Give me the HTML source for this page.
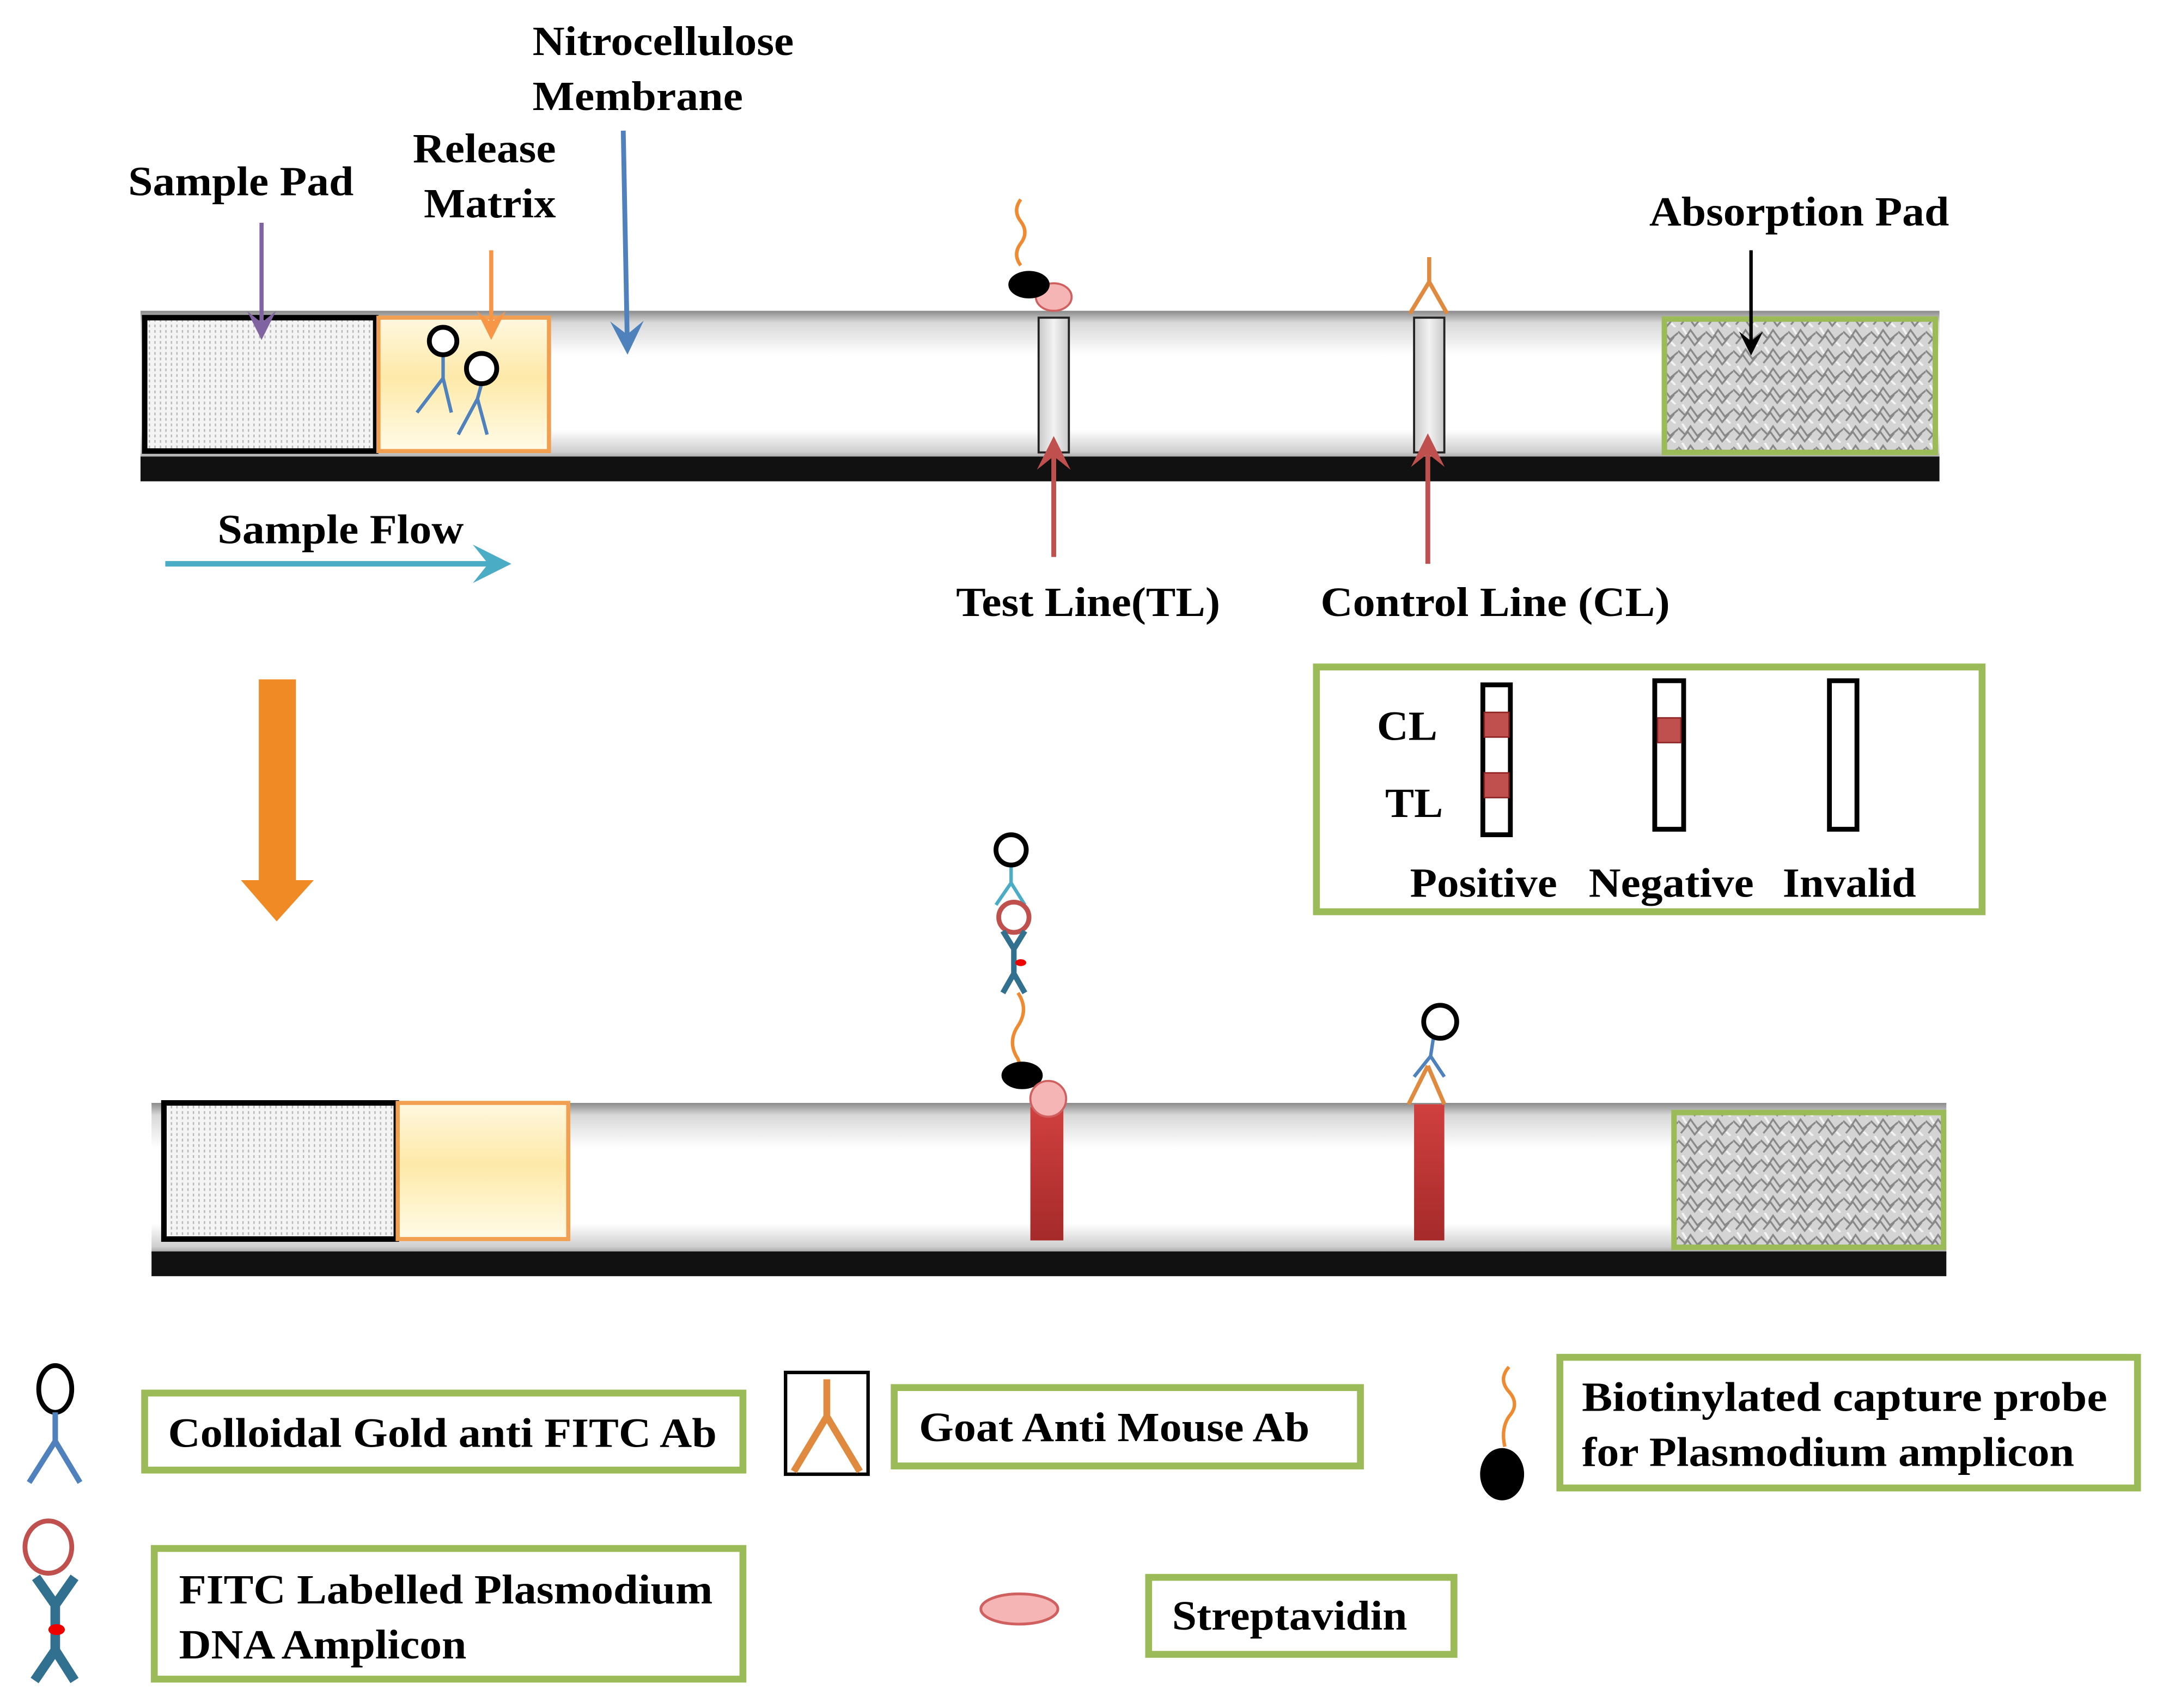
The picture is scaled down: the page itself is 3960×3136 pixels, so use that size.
<!DOCTYPE html>
<html><head><meta charset="utf-8"><style>html,body{margin:0;padding:0;background:#fff}svg{display:block}</style></head>
<body>
<svg xmlns="http://www.w3.org/2000/svg" width="3960" height="3136" viewBox="0 0 1568 1242">
<defs>
<linearGradient id="strip" x1="0" y1="0" x2="0" y2="1">
<stop offset="0" stop-color="#8a8a8a"/><stop offset="0.08" stop-color="#d8d8d8"/><stop offset="0.3" stop-color="#fff"/><stop offset="0.8" stop-color="#fff"/><stop offset="0.95" stop-color="#cfcfcf"/><stop offset="1" stop-color="#999"/>
</linearGradient>
<linearGradient id="rel" x1="0" y1="0" x2="0" y2="1">
<stop offset="0" stop-color="#fff8e0"/><stop offset="0.45" stop-color="#fde9a8"/><stop offset="1" stop-color="#fffbe8"/>
</linearGradient>
<linearGradient id="red" x1="0" y1="0" x2="0" y2="1"><stop offset="0" stop-color="#d0403f"/><stop offset="1" stop-color="#a62a2a"/></linearGradient>
<linearGradient id="gl" x1="0" y1="0" x2="1" y2="0"><stop offset="0" stop-color="#c8c8c8"/><stop offset="0.5" stop-color="#f2f2f2"/><stop offset="1" stop-color="#c8c8c8"/></linearGradient>
<pattern id="dots" width="4" height="4" patternUnits="userSpaceOnUse"><rect width="4" height="4" fill="#f4f4f4"/><rect width="1" height="2" fill="#b8b8b8"/></pattern>
<pattern id="noise" width="20" height="14" patternUnits="userSpaceOnUse"><rect width="20" height="14" fill="#d4d4d4"/><path d="M0 3 L5 8 L9 2 L14 9 L20 4 M2 12 L7 6 L12 13 L17 7" stroke="#888" stroke-width="1.3" fill="none"/><path d="M3 0 L6 5 M15 11 L18 14" stroke="#f4f4f4" stroke-width="1.5"/></pattern>
<marker id="ah" viewBox="0 0 10 10" refX="8" refY="5" markerWidth="7" markerHeight="7" orient="auto-start-reverse"><path d="M0 0 L10 5 L0 10 L4 5 Z" fill="context-stroke"/></marker>
</defs>
<g font-family="'Liberation Serif',serif" font-weight="bold" font-size="30" fill="#000">

<rect x="102" y="226" width="1308" height="108" fill="url(#strip)"/>
<rect x="102" y="332" width="1308" height="18" fill="#111"/>
<rect x="105" y="231" width="168" height="97" fill="url(#dots)" stroke="#000" stroke-width="4"/>
<rect x="275" y="231" width="124" height="97" fill="url(#rel)" stroke="#f0a050" stroke-width="3"/>
<rect x="1210" y="232" width="197" height="97" fill="url(#noise)" stroke="#9bbb59" stroke-width="4"/>
<rect x="755" y="231" width="22" height="98" fill="url(#gl)" stroke="#222" stroke-width="1.5"/>
<rect x="1028" y="231" width="22" height="98" fill="url(#gl)" stroke="#222" stroke-width="1.5"/>
<g stroke="#4f81bd" stroke-width="2.5" fill="none"><path d="M322 258 L322 275 L303 300 M322 275 L328 300"/><path d="M350 279 L347 290 L333 316 M347 290 L354 316"/></g>
<circle cx="322" cy="248" r="10" fill="#fff" stroke="#000" stroke-width="3.5"/>
<circle cx="350" cy="268" r="11" fill="#fff" stroke="#000" stroke-width="3.5"/>
<path d="M742 145 q-6 8 0 16 q6 8 0 16 q-6 8 0 16" stroke="#f08a30" stroke-width="2.5" fill="none"/>
<ellipse cx="766" cy="216" rx="13" ry="10" fill="#f6b5b5" stroke="#d06060" stroke-width="1.5"/>
<ellipse cx="748" cy="207" rx="15" ry="10" fill="#000"/>
<path d="M1039 187 L1039 205 L1025 228 M1039 205 L1052 228" stroke="#e08a40" stroke-width="3" fill="none"/>

<text x="93" y="142" textLength="164" lengthAdjust="spacingAndGlyphs">Sample Pad</text>
<text x="300" y="118" textLength="104" lengthAdjust="spacingAndGlyphs">Release</text>
<text x="308" y="158" textLength="96" lengthAdjust="spacingAndGlyphs">Matrix</text>
<text x="387" y="40" textLength="190" lengthAdjust="spacingAndGlyphs">Nitrocellulose</text>
<text x="387" y="80" textLength="153" lengthAdjust="spacingAndGlyphs">Membrane</text>
<text x="1199" y="164" textLength="218" lengthAdjust="spacingAndGlyphs">Absorption Pad</text>
<line x1="190" y1="162" x2="190" y2="243" stroke="#8064a2" stroke-width="3" marker-end="url(#ah)"/>
<line x1="357" y1="182" x2="357" y2="243" stroke="#f79646" stroke-width="3" marker-end="url(#ah)"/>
<line x1="453" y1="95" x2="456" y2="253" stroke="#4f81bd" stroke-width="3.5" marker-end="url(#ah)"/>
<line x1="1273" y1="182" x2="1273" y2="255" stroke="#000" stroke-width="2.5" marker-end="url(#ah)"/>
<line x1="766" y1="405" x2="766" y2="322" stroke="#c0504d" stroke-width="3.5" marker-end="url(#ah)"/>
<line x1="1038" y1="410" x2="1038" y2="320" stroke="#c0504d" stroke-width="3.5" marker-end="url(#ah)"/>
<text x="695" y="448" textLength="192" lengthAdjust="spacingAndGlyphs">Test Line(TL)</text>
<text x="960" y="448" textLength="254" lengthAdjust="spacingAndGlyphs">Control Line (CL)</text>
<text x="158" y="395" textLength="179" lengthAdjust="spacingAndGlyphs">Sample Flow</text>
<line x1="120" y1="410" x2="366" y2="410" stroke="#4bacc6" stroke-width="4" marker-end="url(#ah)"/>

<path d="M188 494 L215 494 L215 640 L228 640 L201 670 L175 640 L188 640 Z" fill="#f08a24"/>

<rect x="957" y="485" width="484" height="178" fill="#fff" stroke="#9bbb59" stroke-width="5"/>
<text x="1001" y="538" textLength="44" lengthAdjust="spacingAndGlyphs">CL</text>
<text x="1007" y="594" textLength="42" lengthAdjust="spacingAndGlyphs">TL</text>
<rect x="1078" y="498" width="20" height="109" fill="#fff" stroke="#000" stroke-width="3.5"/>
<rect x="1079" y="518" width="18" height="18" fill="#c0504d" stroke="#8b2020"/>
<rect x="1079" y="562" width="18" height="18" fill="#c0504d" stroke="#8b2020"/>
<rect x="1203" y="495" width="21" height="108" fill="#fff" stroke="#000" stroke-width="3.5"/>
<rect x="1205" y="522" width="17" height="18" fill="#c0504d" stroke="#8b2020"/>
<rect x="1330" y="495" width="20" height="108" fill="#fff" stroke="#000" stroke-width="3.5"/>
<text x="1025" y="652" textLength="107" lengthAdjust="spacingAndGlyphs">Positive</text>
<text x="1155" y="652" textLength="120" lengthAdjust="spacingAndGlyphs">Negative</text>
<text x="1296" y="652" textLength="97" lengthAdjust="spacingAndGlyphs">Invalid</text>

<rect x="110" y="802" width="1305" height="110" fill="url(#strip)"/>
<rect x="110" y="910" width="1305" height="18" fill="#111"/>
<rect x="119" y="802" width="169" height="99" fill="url(#dots)" stroke="#000" stroke-width="4"/>
<rect x="289" y="802" width="124" height="99" fill="url(#rel)" stroke="#f0a050" stroke-width="3"/>
<rect x="1217" y="809" width="196" height="98" fill="url(#noise)" stroke="#9bbb59" stroke-width="4"/>
<rect x="749" y="805" width="24" height="97" fill="url(#red)"/>
<rect x="1028" y="803" width="22" height="99" fill="url(#red)"/>
<path d="M735 630 L735 642 L724 658 M735 642 L745 658" stroke="#4bacc6" stroke-width="2.5" fill="none"/>
<circle cx="735" cy="618" r="11" fill="#fff" stroke="#000" stroke-width="3.5"/>
<circle cx="737" cy="667" r="11" fill="#fff" stroke="#c0504d" stroke-width="3.5"/>
<path d="M729 677 L737 690 L745 677 M737 690 L737 708 L729 722 M737 708 L745 722" stroke="#31708f" stroke-width="4" fill="none"/>
<ellipse cx="742" cy="700" rx="4" ry="2.5" fill="#e00"/>
<path d="M740 722 q8 12 0 24 q-8 12 0 24 l2 6" stroke="#f08a30" stroke-width="2.5" fill="none"/>
<ellipse cx="743" cy="782" rx="15" ry="10" fill="#000"/>
<circle cx="762" cy="799" r="13" fill="#f6b5b5" stroke="#d06060" stroke-width="1.5"/>
<path d="M1042 755 L1040 768 L1028 783 M1040 768 L1050 783" stroke="#4f81bd" stroke-width="2.5" fill="none"/>
<path d="M1038 775 L1024 803 M1038 775 L1050 803" stroke="#e08a40" stroke-width="3" fill="none"/>
<circle cx="1047" cy="743" r="12" fill="#fff" stroke="#000" stroke-width="3.5"/>

<ellipse cx="40" cy="1010" rx="12" ry="17" fill="#fff" stroke="#000" stroke-width="3.5"/>
<path d="M40 1027 L40 1048 L21 1078 M40 1048 L58 1078" stroke="#4f81bd" stroke-width="4" fill="none"/>
<rect x="105" y="1013" width="435" height="56" fill="#fff" stroke="#9bbb59" stroke-width="5"/>
<text x="122" y="1052" textLength="399" lengthAdjust="spacingAndGlyphs">Colloidal Gold anti FITC Ab</text>

<rect x="571" y="998" width="60" height="74" fill="#fff" stroke="#000" stroke-width="2.5"/>
<path d="M601 1003 L601 1030 L577 1070 M601 1030 L625 1070" stroke="#e08a40" stroke-width="5" fill="none"/>
<rect x="650" y="1009" width="339" height="57" fill="#fff" stroke="#9bbb59" stroke-width="5"/>
<text x="668" y="1048" textLength="284" lengthAdjust="spacingAndGlyphs">Goat Anti Mouse Ab</text>

<path d="M1097 994 q-8 9 0 18 q8 9 0 18 q-6 9 -3 22" stroke="#f08a30" stroke-width="2.5" fill="none"/>
<ellipse cx="1092" cy="1072" rx="16" ry="19" fill="#000"/>
<rect x="1134" y="987" width="420" height="95" fill="#fff" stroke="#9bbb59" stroke-width="5"/>
<text x="1150" y="1026" textLength="382" lengthAdjust="spacingAndGlyphs">Biotinylated  capture probe</text>
<text x="1150" y="1066" textLength="358" lengthAdjust="spacingAndGlyphs">for Plasmodium amplicon</text>

<ellipse cx="35" cy="1125" rx="17" ry="19" fill="#fff" stroke="#c0504d" stroke-width="3.5"/>
<path d="M26 1147 L40 1167 L54 1147 M40 1167 L40 1200 L25 1222 M40 1200 L54 1222" stroke="#31708f" stroke-width="7" fill="none"/>
<ellipse cx="41" cy="1185" rx="6" ry="4" fill="#e00"/>
<rect x="112" y="1126" width="428" height="95" fill="#fff" stroke="#9bbb59" stroke-width="5"/>
<text x="130" y="1166" textLength="388" lengthAdjust="spacingAndGlyphs">FITC Labelled Plasmodium</text>
<text x="130" y="1206" textLength="209" lengthAdjust="spacingAndGlyphs">DNA Amplicon</text>

<ellipse cx="741" cy="1170" rx="28" ry="11" fill="#f6b5b5" stroke="#d06060" stroke-width="2"/>
<rect x="835" y="1147" width="222" height="56" fill="#fff" stroke="#9bbb59" stroke-width="5"/>
<text x="852" y="1185" textLength="171" lengthAdjust="spacingAndGlyphs">Streptavidin</text>
</g>
</svg>
</body></html>
